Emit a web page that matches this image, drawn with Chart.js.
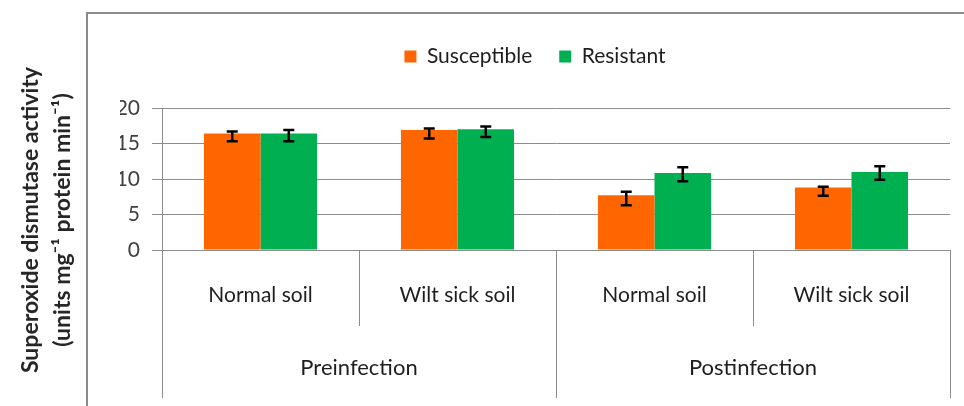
<!DOCTYPE html>
<html><head><meta charset="utf-8">
<script src="https://cdn.jsdelivr.net/npm/chart.js@4/dist/chart.umd.min.js"></script>
<style>html,body{margin:0;padding:0;background:#fff;}#wrap{width:964px;height:406px;}</style>
</head><body><div id="wrap"><canvas id="c" width="964" height="406"></canvas></div>
<script>
const categories = ['Normal soil', 'Wilt sick soil', 'Normal soil', 'Wilt sick soil'];
const groups = ['Preinfection', 'Postinfection'];
const seriesNames = ['Susceptible', 'Resistant'];
const susceptible = [16.4, 16.9, 7.7, 8.8];
const resistant = [16.4, 17.0, 10.85, 11.0];
const susceptibleErrLow = [15.3, 15.7, 6.3, 7.65];
const susceptibleErrHigh = [16.7, 17.1, 8.2, 8.9];
const resistantErrLow = [15.3, 15.9, 9.7, 9.9];
const resistantErrHigh = [16.9, 17.4, 11.65, 11.8];
const yTicks = [0, 5, 10, 15, 20];
const yTitle = ['Superoxide dismutase activity', '(units mg\u207B\u00B9 protein min\u207B\u00B9)'];

const FONT = 'Lato';
const GRID = '#8c8c8c';

const legendHeight = {
  id: 'legendHeight',
  beforeInit(chart) {
    const fit = chart.legend.fit;
    chart.legend.fit = function () { fit.bind(chart.legend)(); this.height = 89; };
  }
};

const frame = {
  id: 'frame',
  beforeDraw(chart) {
    const ctx = chart.ctx;
    ctx.save();
    ctx.strokeStyle = '#8a8a8a';
    ctx.lineWidth = 2;
    ctx.beginPath();
    ctx.moveTo(87, 406); ctx.lineTo(87, 13); ctx.lineTo(964, 13);
    ctx.stroke();
    ctx.restore();
  }
};

const errorBars = {
  id: 'errorBars',
  afterDatasetsDraw(chart) {
    const ctx = chart.ctx, ys = chart.scales.y;
    const lows = [susceptibleErrLow, resistantErrLow];
    const highs = [susceptibleErrHigh, resistantErrHigh];
    chart.data.datasets.forEach((ds, di) => {
      chart.getDatasetMeta(di).data.forEach((bar, i) => {
        const x = bar.x;
        const y1 = ys.getPixelForValue(lows[di][i]);
        const y2 = ys.getPixelForValue(highs[di][i]);
        ctx.save();
        ctx.strokeStyle = '#000';
        ctx.lineWidth = 2.5;
        ctx.beginPath();
        ctx.moveTo(x, y1); ctx.lineTo(x, y2);
        ctx.moveTo(x - 5.5, y1); ctx.lineTo(x + 5.5, y1);
        ctx.moveTo(x - 5.5, y2); ctx.lineTo(x + 5.5, y2);
        ctx.stroke();
        ctx.restore();
      });
    });
  }
};

const axisDecor = {
  id: 'axisDecor',
  afterDraw(chart) {
    const ctx = chart.ctx, xs = chart.scales.x, ca = chart.chartArea;
    const n = categories.length;
    const edges = [];
    for (let i = 0; i <= n; i++) {
      if (i === 0) edges.push(ca.left);
      else if (i === n) edges.push(ca.right);
      else edges.push((xs.getPixelForValue(i - 1) + xs.getPixelForValue(i)) / 2);
    }
    ctx.save();
    ctx.strokeStyle = GRID;
    ctx.lineWidth = 1;
    edges.forEach((ex, i) => {
      const x = Math.round(ex) + 0.5;
      ctx.beginPath();
      ctx.moveTo(x, ca.bottom);
      ctx.lineTo(x, i % 2 === 0 ? 398 : 326);
      ctx.stroke();
    });
    ctx.fillStyle = '#1e1e1e';
    ctx.textAlign = 'center';
    ctx.textBaseline = 'middle';
    ctx.font = '21px ' + FONT;
    categories.forEach((c, i) => ctx.fillText(c, xs.getPixelForValue(i), 295));
    ctx.font = '22px ' + FONT;
    groups.forEach((g, gi) => ctx.fillText(g, (edges[gi * 2] + edges[gi * 2 + 2]) / 2, 368));
    // y title
    ctx.font = 'bold 23px ' + FONT;
    ctx.fillStyle = '#262626';
    ctx.translate(0, 220);
    ctx.rotate(-Math.PI / 2);
    ctx.fillText(yTitle[0], 0, 31);
    ctx.fillText(yTitle[1], 0, 63);
    ctx.restore();
  }
};

new Chart(document.getElementById('c'), {
  type: 'bar',
  data: {
    labels: categories,
    datasets: [
      { label: seriesNames[0], data: susceptible, backgroundColor: '#FF6600', categoryPercentage: 0.574, barPercentage: 1 },
      { label: seriesNames[1], data: resistant, backgroundColor: '#00B050', categoryPercentage: 0.574, barPercentage: 1 }
    ]
  },
  options: {
    responsive: false,
    animation: false,
    devicePixelRatio: 1,
    layout: { padding: { left: 120, right: 14, top: 19, bottom: 156 } },
    plugins: {
      legend: {
        position: 'top',
        labels: { boxWidth: 12, boxHeight: 12, padding: 27, color: '#1e1e1e', font: { family: FONT, size: 21 } }
      },
      tooltip: { enabled: false }
    },
    scales: {
      x: { display: false },
      y: {
        min: 0, max: 20,
        afterFit(scale) { scale.width = 42; },
        afterBuildTicks(scale) { scale.ticks = yTicks.map(v => ({ value: v })); },
        ticks: { color: '#404040', padding: 12, font: { family: FONT, size: 21 } },
        grid: { color: GRID, tickColor: GRID, tickLength: 10, lineWidth: 1 },
        border: { color: GRID }
      }
    }
  },
  plugins: [legendHeight, frame, errorBars, axisDecor]
});
</script></body></html>
